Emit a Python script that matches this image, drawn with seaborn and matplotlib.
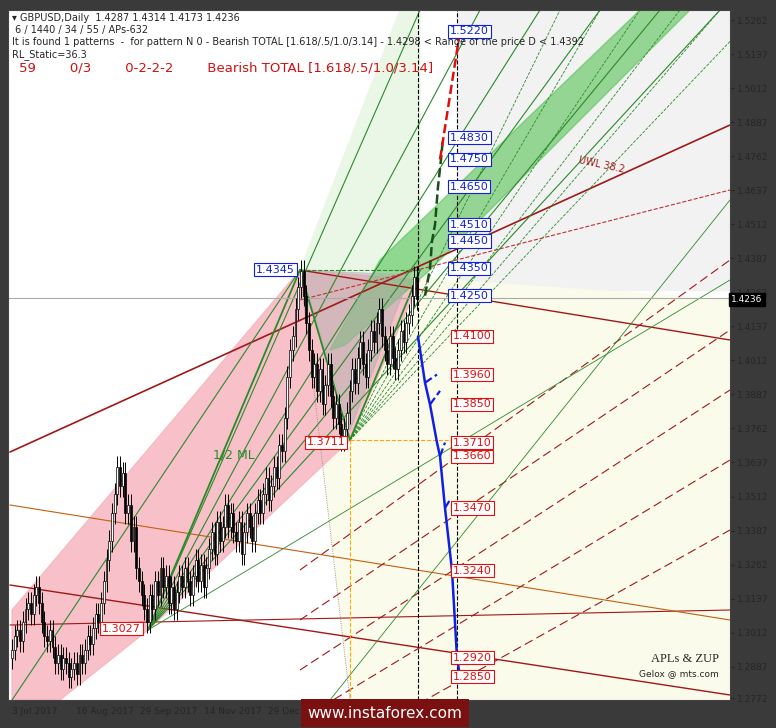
import matplotlib
matplotlib.use("Agg")
import matplotlib.pyplot as plt
import seaborn as sns
import numpy as np
import pandas as pd
from matplotlib.patches import Rectangle, Polygon

sns.set_style("white")
plt.rcParams['font.family'] = ['DejaVu Sans']

closes = [1.295,1.300,1.302,1.298,1.305,1.310,1.312,1.308,1.315,1.318,1.312,
 1.305,1.300,1.298,1.302,1.296,1.290,1.293,1.288,1.292,1.290,
 1.285,1.288,1.290,1.286,1.293,1.290,1.295,1.300,1.297,1.303,
 1.308,1.305,1.312,1.320,1.328,1.335,1.345,1.352,1.362,1.355,
 1.360,1.345,1.348,1.335,1.340,1.325,1.320,1.315,1.310,1.305,
 1.315,1.310,1.320,1.315,1.325,1.318,1.322,1.312,1.318,1.310,
 1.316,1.322,1.318,1.325,1.320,1.315,1.322,1.328,1.320,1.326,
 1.318,1.325,1.332,1.338,1.330,1.342,1.335,1.340,1.348,1.340,
 1.345,1.338,1.335,1.342,1.330,1.338,1.345,1.340,1.335,1.345,
 1.350,1.345,1.352,1.358,1.350,1.355,1.362,1.358,1.370,1.368,
 1.380,1.395,1.405,1.410,1.420,1.428,1.434,1.425,1.415,1.405,
 1.395,1.400,1.390,1.398,1.385,1.392,1.400,1.388,1.380,1.385,
 1.378,1.372,1.376,1.382,1.390,1.398,1.393,1.402,1.408,1.400,
 1.395,1.405,1.412,1.408,1.415,1.420,1.410,1.405,1.400,1.410,
 1.402,1.398,1.405,1.412,1.408,1.415,1.418,1.425,1.432,1.4236]
y_ticks = [1.5262,1.5137,1.5012,1.4887,1.4762,1.4637,1.4512,1.4387,1.4262,1.4137,1.4012,
           1.3887,1.3762,1.3637,1.3512,1.3387,1.3262,1.3137,1.3012,1.2887,1.2772]
date_labels = ["3 Jul 2017","16 Aug 2017","29 Sep 2017","14 Nov 2017","29 Dec 2017","12 Feb 2018"]
date_px = [8, 72, 136, 200, 264, 330]
blue_levels = [1.5220,1.4830,1.4750,1.4650,1.4510,1.4450,1.4350,1.4250]
red_levels = [1.4100,1.3960,1.3850,1.3710,1.3660,1.3470,1.3240,1.2920,1.2850]
blue_path = [1.4100,1.3930,1.3850,1.3710,1.3660,1.3470,1.3240,1.2920,1.2850]
blue_path_px = [418,425,430,437,440,445,452,457,460]
blue_dash = [1.3930,1.3960,1.3850,1.3900,1.3660,1.3710,1.3470,1.3500]
blue_dash_px = [425,437,430,440,440,445,445,450]
green_path = [1.4250,1.4350,1.4450,1.4510,1.4650,1.4750,1.4830]
green_path_px = [425,430,432,435,438,441,443]

W, H = 776, 728
fig = plt.figure(figsize=(W/100, H/100), dpi=100)
fig.patch.set_facecolor('#3a3a3a')
L, R, T, B = 8, 730, 10, 700
ax = fig.add_axes([L/W, 1-B/H, (R-L)/W, (B-T)/H])
ax.set_facecolor('white')

def bx(px): return (px-12)/2.7
def py(p): return 1.5262-(p-20)/2723.0
ax.set_xlim(bx(L), bx(R)); ax.set_ylim(py(B), py(T))

def seg(x1,y1,x2,y2,**kw):
    ax.plot([bx(x1),bx(x2)],[py(y1),py(y2)],**kw)

ax.add_patch(Polygon([(bx(457),py(10)),(bx(730),py(10)),(bx(730),py(290)),(bx(457),py(290))],color='#f2f2f2',zorder=0))
ax.add_patch(Polygon([(bx(300),py(270)),(bx(730),py(300)),(bx(730),py(700)),(bx(350),py(700))],color='#fbfbec',zorder=0))
ax.add_patch(Polygon([(bx(300),py(270)),(bx(400),py(10)),(bx(420),py(10)),(bx(420),py(270))],color='#eaf7e6',zorder=0))
ax.add_patch(Polygon([(bx(12),py(610)),(bx(300),py(270)),(bx(420),py(280)),(bx(350),py(440)),(bx(148),py(630)),(bx(60),py(700)),(bx(12),py(700))],color='#f7b6c0',alpha=0.85,zorder=1))
ax.add_patch(Polygon([(bx(330),py(350)),(bx(380),py(260)),(bx(640),py(10)),(bx(690),py(10)),(bx(430),py(270)),(bx(345),py(345))],color='#55c255',alpha=0.6,zorder=1))
ax.add_patch(Polygon([(bx(300),py(270)),(bx(410),py(275)),(bx(350),py(430))],color='#b0b0b0',alpha=0.5,zorder=1))

seg(10,452,730,125,color='#a01818',lw=1.2)
seg(300,270,730,340,color='#a01818',lw=1)
seg(10,585,730,695,color='#a01818',lw=1)
seg(10,625,730,610,color='#a01818',lw=0.8)
seg(10,505,730,620,color='#c06010',lw=0.8)
seg(300,300,730,190,color='#c03030',lw=0.8,ls='--')
for y0,y1 in [(470,260),(520,330),(570,390),(620,460),(670,530)]:
    seg(300,y0+100,730,y1,color='#a01818',lw=0.8,ls=(0,(8,4)))
for k in range(6):
    seg(148,630,420+k*60,10,color='#2a8a2a',lw=0.8)
    seg(350,440,560+k*40,10,color='#2a8a2a',lw=0.6,ls='--')
seg(12,700,300,270,color='#2a8a2a',lw=0.8)
seg(148,630,730,280,color='#2a8a2a',lw=0.6)
seg(330,700,730,200,color='#2a8a2a',lw=0.6)
seg(12,700,730,700,color='#c08040',lw=0.6,ls=':')
seg(300,270,420,270,color='#2a8a2a',lw=0.8,ls='--')
seg(300,270,350,700,color='#808080',lw=0.6,ls=':')
seg(148,630,300,270,color='#2a8a2a',lw=1.3)
seg(300,270,350,440,color='#2a8a2a',lw=1.3)
seg(350,440,420,270,color='#2a8a2a',lw=1.3)
seg(350,440,460,440,color='orange',lw=0.8,ls='--')
seg(350,440,350,700,color='orange',lw=0.8,ls='--')
ax.axvline(bx(418),color='k',lw=0.8,ls='--'); ax.axvline(bx(457),color='k',lw=0.8,ls='--')
ax.axhline(py(298),color='#aaaaaa',lw=0.8)

df = pd.DataFrame({'i':np.arange(len(closes)),'close':closes})
df['open'] = df['close'].shift(1).fillna(df['close'][0]-0.003)
for i,r in df.iterrows():
    lo=min(r.open,r.close); hi=max(r.open,r.close)
    ax.vlines(i,lo-0.004,hi+0.004,color='k',lw=0.7,zorder=3)
    ax.add_patch(Rectangle((i-0.35,lo),0.7,max(hi-lo,0.0005),facecolor='white' if r.close>=r.open else 'k',edgecolor='k',lw=0.5,zorder=4))

sns.lineplot(x=[bx(p) for p in blue_path_px],y=blue_path,color='#1020e0',lw=1.8,ax=ax,zorder=5)
for j in range(0,len(blue_dash),2):
    ax.plot([bx(blue_dash_px[j]),bx(blue_dash_px[j+1])],[blue_dash[j],blue_dash[j+1]],color='#1020e0',lw=1.6,ls='--',zorder=5)
sns.lineplot(x=[bx(p) for p in green_path_px],y=green_path,color='#185018',lw=1.8,ax=ax,zorder=5,linestyle='--')
ax.plot([bx(440),bx(460)],[1.4750,1.5220],color='#e01010',lw=1.8,ls='--',zorder=5)

def box(x,y,t,ec):
    ax.text(x,y,t,fontsize=8,color=ec,va='center',ha='left',zorder=7,
            bbox=dict(boxstyle='square,pad=0.15',fc='white',ec=ec,lw=0.8))
for v in blue_levels: box(bx(450),v,f"{v:.4f}",'#1020e0')
for v in red_levels: box(bx(453),v,f"{v:.4f}",'#e01010')
box(bx(256),1.4345,"1.4345",'#1020e0')
box(bx(102),1.3027,"1.3027",'#e01010')
box(bx(307),1.3711,"1.3711",'#e01010')

ax.text(bx(213),1.3650,"1/2 ML",color='#2a8a2a',fontsize=9)
ax.text(bx(578),1.4700,"UWL 38.2",color='#a01818',fontsize=7,rotation=-12)

ax.text(0.005,0.995,"▾ GBPUSD,Daily  1.4287 1.4314 1.4173 1.4236",transform=ax.transAxes,fontsize=7,va='top')
ax.text(0.005,0.978," 6 / 1440 / 34 / 55 / APs-632",transform=ax.transAxes,fontsize=7,va='top')
ax.text(0.005,0.961,"It is found 1 patterns  -  for pattern N 0 - Bearish TOTAL [1.618/.5/1.0/3.14] - 1.4298 < Range of the price D < 1.4392",transform=ax.transAxes,fontsize=7,va='top')
ax.text(0.005,0.944,"RL_Static=36.3",transform=ax.transAxes,fontsize=7,va='top')
ax.text(0.015,0.925,"59        0/3        0-2-2-2        Bearish TOTAL [1.618/.5/1.0/3.14]",transform=ax.transAxes,fontsize=9.5,va='top',color='#d01010')
ax.text(0.985,0.055,"APLs & ZUP",transform=ax.transAxes,fontsize=9,ha='right',family='Liberation Serif')
ax.text(0.985,0.035,"Gelox @ mts.com",transform=ax.transAxes,fontsize=6.5,ha='right')

ax.set_yticks(y_ticks); ax.yaxis.tick_right()
ax.set_yticklabels([f"{v:.4f}" for v in y_ticks],fontsize=6.5)
ax.set_xticks([bx(p+4) for p in date_px]); ax.set_xticklabels(date_labels[:5]+[""],fontsize=6.5,ha='left')
ax.tick_params(axis='both',length=3,pad=2)
ax.text(1.002,1.4236,"1.4236",transform=ax.get_yaxis_transform(),fontsize=6.5,color='white',va='center',zorder=10,
        bbox=dict(boxstyle='square,pad=0.25',fc='black',ec='black'))
for s in ax.spines.values(): s.set_color('#444'); s.set_linewidth(0.8)
fig.text(385/W,1-713/H,"www.instaforex.com",color='white',fontsize=11,ha='center',va='center',
         bbox=dict(boxstyle='square,pad=0.4',fc='#7a1010',ec='none'))
fig.savefig("out.png",dpi=100,facecolor=fig.get_facecolor())
